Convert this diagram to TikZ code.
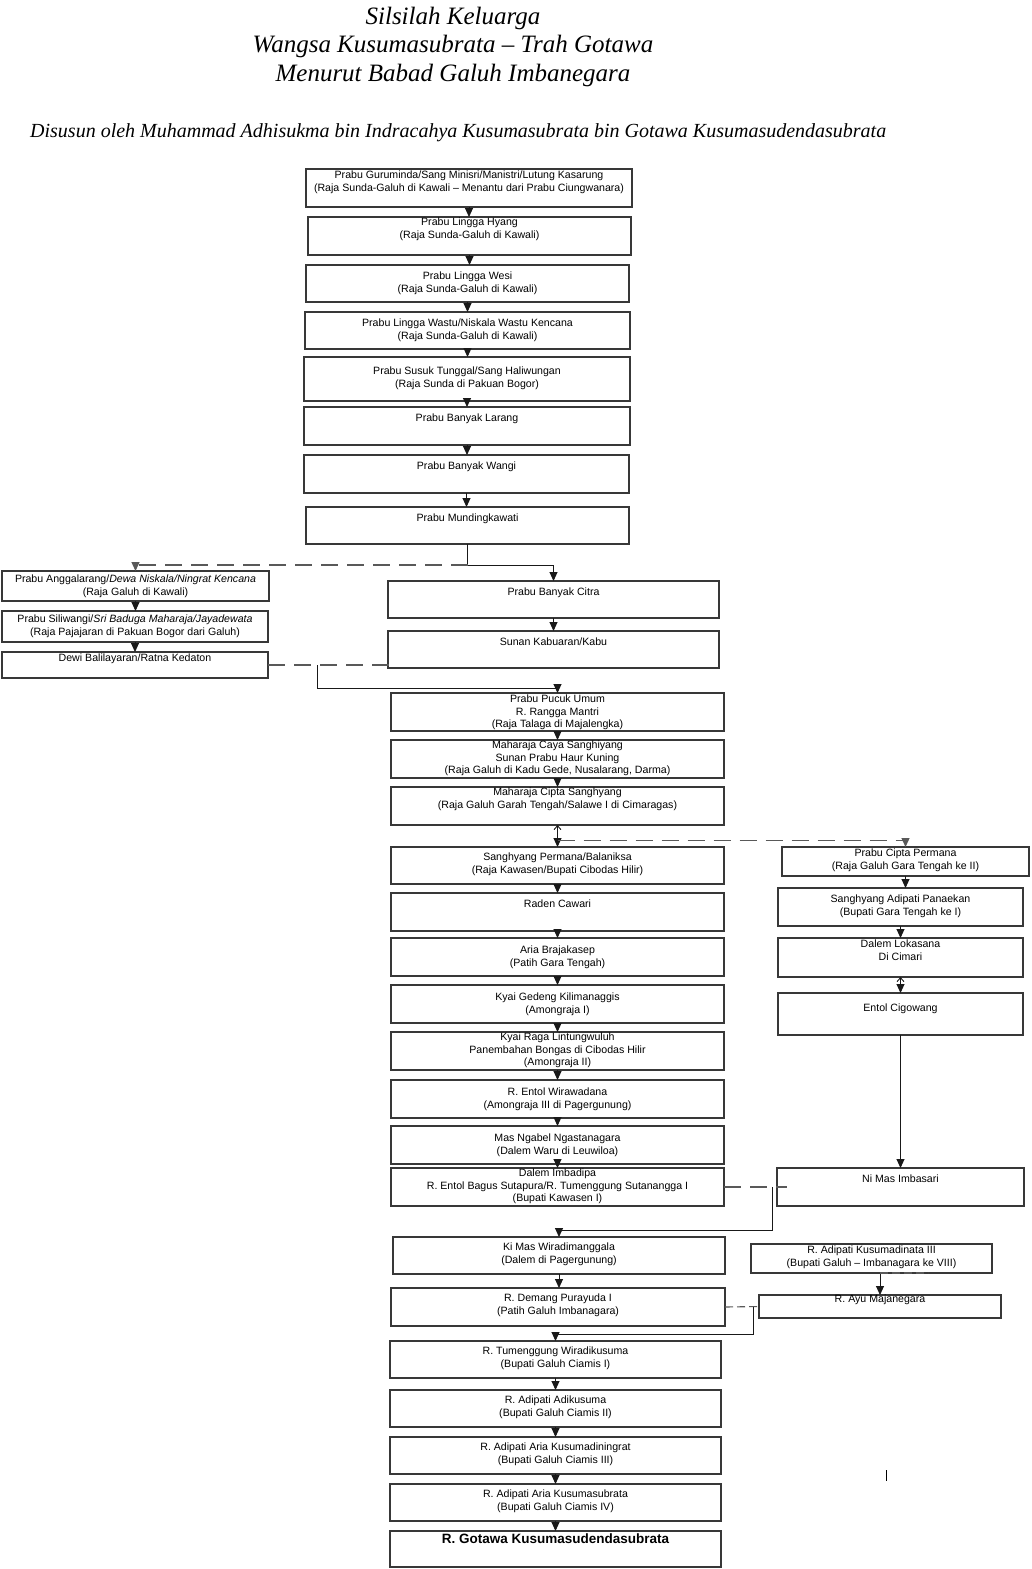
\documentclass[tikz,border=0pt]{standalone}
\usepackage{fontspec}
\usetikzlibrary{arrows.meta,calc}
\newfontfamily\boxfamily{Liberation Sans}
\newfontfamily\titlefamily{Liberation Serif}
\newcommand\boxfont{\boxfamily\fontsize{10.6}{12.5}\selectfont}
\tikzset{
  bx/.style={draw=black!78, line width=1.1pt, inner sep=0pt, outer sep=0pt, font=\boxfont},
  ln/.style={draw=black!90, line width=0.9pt},
  tip/.style={-{Triangle[length=9pt,width=8pt]}},
  arr/.style={ln, tip},
  dsh/.style={draw=black!65, line width=1.2pt, dash pattern=on 17pt off 9pt},
  dshs/.style={draw=black!65, line width=1.1pt, dash pattern=on 8pt off 4pt},
  ttl/.style={font=\titlefamily\itshape\fontsize{25}{28}\selectfont, inner sep=0pt},
}
% name, x1, y1, x2, y2, y of first text line, text
\newcommand{\bx}[7]{%
  \node[bx, anchor=north west] (#1) at (#2,#3)
    {\parbox[c][\dimexpr #5pt-#3pt\relax][t]{\dimexpr #4pt-#2pt\relax}{\centering\vspace*{\dimexpr #6pt-#3pt-4.95pt\relax}\strut #7\par}};}
\begin{document}
\begin{tikzpicture}[x=1pt,y=-1pt]
\fill[white] (0,0) rectangle (1031,1569);
\useasboundingbox (0,0) rectangle (1031,1569);

% titles
\node[ttl] (t1) at (453,18) {Silsilah Keluarga};
\node[ttl] (t2) at (453,46) {Wangsa Kusumasubrata – Trah Gotawa};
\node[ttl] (t3) at (453,75) {Menurut Babad Galuh Imbanegara};
\node[ttl, font=\titlefamily\itshape\fontsize{20}{24}\selectfont, anchor=west] (t4) at (30,133) {Disusun oleh Muhammad Adhisukma bin Indracahya Kusumasubrata bin Gotawa Kusumasudendasubrata};

% top chain
\bx{gur}{306}{169}{632}{207}{175}{Prabu Guruminda/Sang Minisri/Manistri/Lutung Kasarung\\(Raja Sunda-Galuh di Kawali – Menantu dari Prabu Ciungwanara)}
\bx{hya}{308}{217}{631}{255}{222}{Prabu Lingga Hyang\\(Raja Sunda-Galuh di Kawali)}
\bx{wes}{306}{265}{629}{302}{276}{Prabu Lingga Wesi\\(Raja Sunda-Galuh di Kawali)}
\bx{was}{305}{312}{630}{349}{323}{Prabu Lingga Wastu/Niskala Wastu Kencana\\(Raja Sunda-Galuh di Kawali)}
\bx{sus}{304}{357}{630}{401}{371}{Prabu Susuk Tunggal/Sang Haliwungan\\(Raja Sunda di Pakuan Bogor)}
\bx{lar}{304}{407}{630}{445}{418}{Prabu Banyak Larang}
\bx{wan}{304}{455}{629}{493}{466}{Prabu Banyak Wangi}
\bx{mun}{306}{507}{629}{544}{518}{Prabu Mundingkawati}

% left branch
\bx{ang}{2}{571}{269}{601}{579}{Prabu Anggalarang/\textit{Dewa Niskala/Ningrat Kencana}\\(Raja Galuh di Kawali)}
\bx{sil}{2}{611}{268}{642}{619}{Prabu Siliwangi/\textit{Sri Baduga Maharaja/Jayadewata}\\(Raja Pajajaran di Pakuan Bogor dari Galuh)}
\bx{dew}{2}{652}{268}{678}{658}{Dewi Balilayaran/Ratna Kedaton}

\bx{cit}{388}{581}{719}{618}{592}{Prabu Banyak Citra}
\bx{kab}{388}{631}{719}{668}{642}{Sunan Kabuaran/Kabu}

% middle chain
\bx{puc}{391}{693}{724}{731}{699}{Prabu Pucuk Umum\\R. Rangga Mantri\\(Raja Talaga di Majalengka)}
\bx{cay}{391}{740}{724}{778}{745}{Maharaja Caya Sanghiyang\\Sunan Prabu Haur Kuning\\(Raja Galuh di Kadu Gede, Nusalarang, Darma)}
\bx{cis}{391}{787}{724}{825}{792}{Maharaja Cipta Sanghyang\\(Raja Galuh Garah Tengah/Salawe I di Cimaragas)}
\bx{per}{391}{847}{724}{884}{857}{Sanghyang Permana/Balaniksa\\(Raja Kawasen/Bupati Cibodas Hilir)}
\bx{caw}{391}{893}{724}{931}{904}{Raden Cawari}
\bx{bra}{391}{938}{724}{976}{950}{Aria Brajakasep\\(Patih Gara Tengah)}
\bx{ged}{391}{985}{724}{1023}{997}{Kyai Gedeng Kilimanaggis\\(Amongraja I)}
\bx{rag}{391}{1032}{724}{1070}{1037}{Kyai Raga Lintungwuluh\\Panembahan Bongas di Cibodas Hilir\\(Amongraja II)}
\bx{wir}{391}{1080}{724}{1118}{1092}{R. Entol Wirawadana\\(Amongraja III di Pagergunung)}
\bx{nga}{391}{1126}{724}{1164}{1138}{Mas Ngabel Ngastanagara\\(Dalem Waru di Leuwiloa)}
\bx{imb}{391}{1168}{724}{1206}{1173}{Dalem Imbadipa\\R. Entol Bagus Sutapura/R. Tumenggung Sutanangga I\\(Bupati Kawasen I)}
\bx{kim}{393}{1237}{725}{1274}{1247}{Ki Mas Wiradimanggala\\(Dalem di Pagergunung)}
\bx{dem}{391}{1288}{725}{1326}{1298}{R. Demang Purayuda I\\(Patih Galuh Imbanagara)}
\bx{wik}{390}{1341}{721}{1378}{1351}{R. Tumenggung Wiradikusuma\\(Bupati Galuh Ciamis I)}
\bx{adk}{390}{1390}{721}{1427}{1400}{R. Adipati Adikusuma\\(Bupati Galuh Ciamis II)}
\bx{kdn}{390}{1437}{721}{1474}{1447}{R. Adipati Aria Kusumadiningrat\\(Bupati Galuh Ciamis III)}
\bx{ksb}{390}{1484}{721}{1521}{1494}{R. Adipati Aria Kusumasubrata\\(Bupati Galuh Ciamis IV)}
\bx{got}{390}{1531}{721}{1567}{1539}{\fontsize{13.5}{14}\selectfont\bfseries R. Gotawa Kusumasudendasubrata}

% right column
\bx{cip}{782}{847}{1029}{876}{853}{Prabu Cipta Permana\\(Raja Galuh Gara Tengah ke II)}
\bx{pan}{778}{888}{1023}{926}{899}{Sanghyang Adipati Panaekan\\(Bupati Gara Tengah ke I)}
\bx{lok}{778}{938}{1023}{977}{944}{Dalem Lokasana\\Di Cimari}
\bx{cig}{778}{993}{1023}{1035}{1008}{Entol Cigowang}
\bx{nim}{777}{1168}{1024}{1206}{1179}{Ni Mas Imbasari}
\bx{kdt}{751}{1244}{992}{1273}{1250}{R. Adipati Kusumadinata III\\(Bupati Galuh – Imbanagara ke VIII)}
\bx{ayu}{759}{1295}{1001}{1318}{1299}{R. Ayu Majanegara}

% top chain arrows
\foreach \a/\b in {gur/hya,hya/wes,wes/was,was/sus,sus/lar,lar/wan,wan/mun}
  \draw[arr] (\a.south) -- (\a.south |- \b.north);

% Mundingkawati split
\coordinate (jm) at ($(mun.south)+(0,21)$);
\draw[arr] (mun.south) -- (jm) -| (cit.north);
\draw[dsh, tip] (jm) -| (ang.north);
\draw[arr] (ang.south) -- (ang.south |- sil.north);
\draw[arr] (sil.south) -- (sil.south |- dew.north);
\draw[arr] (cit.south) -- (cit.south |- kab.north);

% Dewi -- Kabuaran
\draw[dsh] (dew.east) -- ($(kab.west |- dew.east)+(5,0)$);
\coordinate (jd) at ($(dew.east)!0.41!(kab.west |- dew.east)$);
\coordinate (jp) at ($(puc.north)+(0,-5)$);
\draw[arr] (jd) |- (jp) -- (puc.north);

% middle chain arrows
\draw[arr] (puc.south) -- (puc.south |- cay.north);
\draw[arr] (cay.south) -- (cay.south |- cis.north);
\draw[ln, {Straight Barb[length=4pt,width=7pt]}-{Triangle[length=9pt,width=8pt]}] (cis.south) -- (cis.south |- per.north);
\coordinate (jc) at ($(cis.south)!0.72!(cis.south |- per.north)$);
\draw[dsh, tip] (jc) -| (cip.north);
\foreach \a/\b in {per/caw,caw/bra,bra/ged,ged/rag,rag/wir,wir/nga,nga/imb,kim/dem,wik/adk,adk/kdn,kdn/ksb,ksb/got}
  \draw[arr] (\a.south) -- (\a.south |- \b.north);

% right column arrows
\draw[arr] (cip.south) -- (cip.south |- pan.north);
\draw[arr] (pan.south) -- (pan.south |- lok.north);
\draw[ln, {Straight Barb[length=4pt,width=7pt]}-{Triangle[length=9pt,width=8pt]}] (lok.south) -- (lok.south |- cig.north);
\draw[arr] (cig.south) -- (cig.south |- nim.north);

% Imbadipa -- Ni Mas
\draw[dsh] (imb.east) -- ($(nim.west)+(10,0)$);
\coordinate (ji) at ($(nim.west)+(-5,0)$);
\coordinate (jk) at ($(kim.north)+(0,-7)$);
\draw[arr] (ji) |- (jk) -- (kim.north);

% Kusumadinata -- Ayu
\coordinate (jt) at (ayu.north |- kdt.south);
\draw[arr] (jt) -- (ayu.north);
\draw[dshs] (jt) -- ++(48,0);
\draw[dshs] (dem.east) -- (ayu.west);
\coordinate (ja) at ($(ayu.west)+(-6,0)$);
\coordinate (jw) at ($(wik.north)+(0,-7)$);
\draw[arr] (ja) |- (jw) -- (wik.north);

% stray mark
\draw[line width=0.9pt] (886,1470) -- (886,1481);
\end{tikzpicture}
\end{document}
